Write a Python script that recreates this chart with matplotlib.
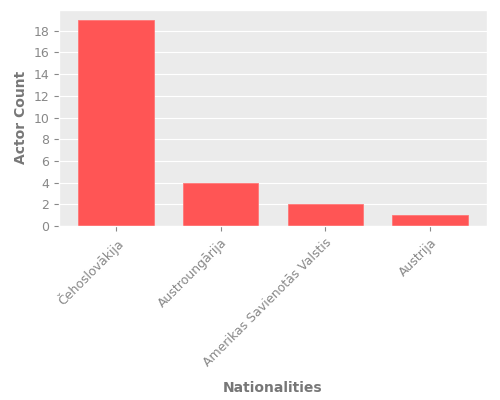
import matplotlib
matplotlib.use("Agg")
import matplotlib.pyplot as plt

# Data
nationalities = ['Čehoslovākija', 'Austroungārija', 'Amerikas Savienotās Valstis', 'Austrija']
actor_counts = [19, 4, 2, 1]

plt.style.use('ggplot')
fig = plt.figure(figsize=(5, 4), dpi=100)
ax = fig.add_axes([0.118, 0.435, 0.856, 0.541])
ax.set_facecolor('#EBEBEB')

ax.bar(range(len(nationalities)), actor_counts, width=0.72, color='#FF5555',
       edgecolor='#FF7777', linewidth=0.6)
ax.set_xticks(range(len(nationalities)))
ax.set_xticklabels(nationalities, rotation=45, ha='right', va='top', rotation_mode='anchor')
ax.set_yticks(range(0, 20, 2))
ax.tick_params(colors='#888888', labelcolor='#888888', labelsize=9)
ax.grid(axis='x', visible=False)

ax.set_xlabel('Nationalities', fontweight='bold', color='#777777', fontsize=10, labelpad=9)
ax.set_ylabel('Actor Count', fontweight='bold', color='#777777', fontsize=10)

fig.savefig('out.png')
